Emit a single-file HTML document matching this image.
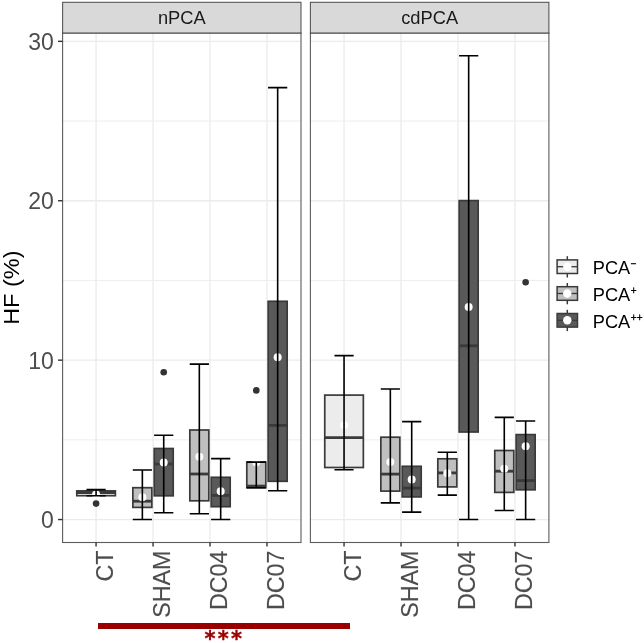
<!DOCTYPE html>
<html lang="en"><head><meta charset="utf-8"><title>HF (%) boxplot</title>
<style>html,body{margin:0;padding:0;background:#fff}body{width:644px;height:643px;overflow:hidden}</style>
</head><body>
<svg width="644" height="643" viewBox="0 0 644 643" style="display:block" font-family="Liberation Sans, sans-serif">
<rect width="644" height="643" fill="#fff"/>
<g>
<line x1="62.6" x2="301.0" y1="439.85" y2="439.85" stroke="#ebebeb" stroke-width="0.9"/>
<line x1="62.6" x2="301.0" y1="280.45" y2="280.45" stroke="#ebebeb" stroke-width="0.9"/>
<line x1="62.6" x2="301.0" y1="121.05" y2="121.05" stroke="#ebebeb" stroke-width="0.9"/>
<line x1="62.6" x2="301.0" y1="519.55" y2="519.55" stroke="#ebebeb" stroke-width="1.3"/>
<line x1="62.6" x2="301.0" y1="360.15" y2="360.15" stroke="#ebebeb" stroke-width="1.3"/>
<line x1="62.6" x2="301.0" y1="200.75" y2="200.75" stroke="#ebebeb" stroke-width="1.3"/>
<line x1="62.6" x2="301.0" y1="41.35" y2="41.35" stroke="#ebebeb" stroke-width="1.3"/>
<line x1="96.07" x2="96.07" y1="33.0" y2="542.5" stroke="#ebebeb" stroke-width="1.3"/>
<line x1="153.04" x2="153.04" y1="33.0" y2="542.5" stroke="#ebebeb" stroke-width="1.3"/>
<line x1="210.01" x2="210.01" y1="33.0" y2="542.5" stroke="#ebebeb" stroke-width="1.3"/>
<line x1="266.98" x2="266.98" y1="33.0" y2="542.5" stroke="#ebebeb" stroke-width="1.3"/>
</g>
<g>
<line x1="310.4" x2="548.9" y1="439.85" y2="439.85" stroke="#ebebeb" stroke-width="0.9"/>
<line x1="310.4" x2="548.9" y1="280.45" y2="280.45" stroke="#ebebeb" stroke-width="0.9"/>
<line x1="310.4" x2="548.9" y1="121.05" y2="121.05" stroke="#ebebeb" stroke-width="0.9"/>
<line x1="310.4" x2="548.9" y1="519.55" y2="519.55" stroke="#ebebeb" stroke-width="1.3"/>
<line x1="310.4" x2="548.9" y1="360.15" y2="360.15" stroke="#ebebeb" stroke-width="1.3"/>
<line x1="310.4" x2="548.9" y1="200.75" y2="200.75" stroke="#ebebeb" stroke-width="1.3"/>
<line x1="310.4" x2="548.9" y1="41.35" y2="41.35" stroke="#ebebeb" stroke-width="1.3"/>
<line x1="344.05" x2="344.05" y1="33.0" y2="542.5" stroke="#ebebeb" stroke-width="1.3"/>
<line x1="401.02" x2="401.02" y1="33.0" y2="542.5" stroke="#ebebeb" stroke-width="1.3"/>
<line x1="457.99" x2="457.99" y1="33.0" y2="542.5" stroke="#ebebeb" stroke-width="1.3"/>
<line x1="514.96" x2="514.96" y1="33.0" y2="542.5" stroke="#ebebeb" stroke-width="1.3"/>
</g>
<g>
<circle cx="96.07" cy="503.6" r="3.3" fill="#333"/>
<rect x="76.77" y="490.9" width="38.60" height="4.80" fill="#ececec" stroke="#3a3a3a" stroke-width="1.7"/>
<line x1="76.77" x2="115.37" y1="492.5" y2="492.5" stroke="#3a3a3a" stroke-width="2.8"/>
<circle cx="96.07" cy="494.6" r="4" fill="#fff"/>
<path d="M86.47 489.6H105.67M96.07 489.6V495.7M86.47 495.7H105.67" stroke="#000" stroke-width="1.6" fill="none"/>
</g>
<g>
<rect x="132.86" y="487.7" width="19.00" height="19.70" fill="#bfbfbf" stroke="#3a3a3a" stroke-width="1.7"/>
<line x1="132.86" x2="151.86" y1="501.2" y2="501.2" stroke="#3a3a3a" stroke-width="2.8"/>
<circle cx="142.36" cy="497.2" r="4" fill="#fff"/>
<path d="M132.76 470.0H151.96M142.36 470.0V519.55M132.76 519.55H151.96" stroke="#000" stroke-width="1.6" fill="none"/>
</g>
<g>
<circle cx="163.72" cy="372.2" r="3.3" fill="#333"/>
<rect x="154.22" y="448.5" width="19.00" height="47.30" fill="#595959" stroke="#3a3a3a" stroke-width="1.7"/>
<line x1="154.22" x2="173.22" y1="464.0" y2="464.0" stroke="#3a3a3a" stroke-width="2.8"/>
<circle cx="163.72" cy="462.4" r="4" fill="#fff"/>
<path d="M154.12 435.2H173.32M163.72 435.2V512.8M154.12 512.8H173.32" stroke="#000" stroke-width="1.6" fill="none"/>
</g>
<g>
<rect x="189.83" y="430.0" width="19.00" height="70.80" fill="#bfbfbf" stroke="#3a3a3a" stroke-width="1.7"/>
<line x1="189.83" x2="208.83" y1="474.0" y2="474.0" stroke="#3a3a3a" stroke-width="2.8"/>
<circle cx="199.33" cy="456.7" r="4" fill="#fff"/>
<path d="M189.73 364.1H208.93M199.33 364.1V513.8M189.73 513.8H208.93" stroke="#000" stroke-width="1.6" fill="none"/>
</g>
<g>
<rect x="211.19" y="477.3" width="19.00" height="29.40" fill="#595959" stroke="#3a3a3a" stroke-width="1.7"/>
<line x1="211.19" x2="230.19" y1="495.4" y2="495.4" stroke="#3a3a3a" stroke-width="2.8"/>
<circle cx="220.69" cy="491.2" r="4" fill="#fff"/>
<path d="M211.09 458.6H230.29M220.69 458.6V519.55M211.09 519.55H230.29" stroke="#000" stroke-width="1.6" fill="none"/>
</g>
<g>
<circle cx="256.30" cy="390.4" r="3.3" fill="#333"/>
<rect x="246.80" y="462.1" width="19.00" height="25.60" fill="#bfbfbf" stroke="#3a3a3a" stroke-width="1.7"/>
<line x1="246.80" x2="265.80" y1="486.1" y2="486.1" stroke="#3a3a3a" stroke-width="2.8"/>
<circle cx="256.30" cy="462.3" r="4" fill="#fff"/>
<path d="M246.70 462.1H265.90M256.30 462.1V487.7M246.70 487.7H265.90" stroke="#000" stroke-width="1.6" fill="none"/>
</g>
<g>
<rect x="268.16" y="301.3" width="19.00" height="180.00" fill="#595959" stroke="#3a3a3a" stroke-width="1.7"/>
<line x1="268.16" x2="287.16" y1="425.4" y2="425.4" stroke="#3a3a3a" stroke-width="2.8"/>
<circle cx="277.66" cy="357.3" r="4" fill="#fff"/>
<path d="M268.06 87.6H287.26M277.66 87.6V490.8M268.06 490.8H287.26" stroke="#000" stroke-width="1.6" fill="none"/>
</g>
<g>
<rect x="324.75" y="395.1" width="38.60" height="72.40" fill="#ececec" stroke="#3a3a3a" stroke-width="1.7"/>
<line x1="324.75" x2="363.35" y1="437.6" y2="437.6" stroke="#3a3a3a" stroke-width="2.8"/>
<circle cx="344.05" cy="425.3" r="4" fill="#fff"/>
<path d="M334.45 355.6H353.65M344.05 355.6V469.8M334.45 469.8H353.65" stroke="#000" stroke-width="1.6" fill="none"/>
</g>
<g>
<rect x="380.84" y="437.2" width="19.00" height="53.90" fill="#bfbfbf" stroke="#3a3a3a" stroke-width="1.7"/>
<line x1="380.84" x2="399.84" y1="474.1" y2="474.1" stroke="#3a3a3a" stroke-width="2.8"/>
<circle cx="390.34" cy="462.0" r="4" fill="#fff"/>
<path d="M380.74 389.0H399.94M390.34 389.0V502.9M380.74 502.9H399.94" stroke="#000" stroke-width="1.6" fill="none"/>
</g>
<g>
<rect x="402.20" y="466.3" width="19.00" height="30.60" fill="#595959" stroke="#3a3a3a" stroke-width="1.7"/>
<line x1="402.20" x2="421.20" y1="488.1" y2="488.1" stroke="#3a3a3a" stroke-width="2.8"/>
<circle cx="411.70" cy="479.6" r="4" fill="#fff"/>
<path d="M402.10 421.6H421.30M411.70 421.6V512.1M402.10 512.1H421.30" stroke="#000" stroke-width="1.6" fill="none"/>
</g>
<g>
<rect x="437.81" y="458.8" width="19.00" height="28.10" fill="#bfbfbf" stroke="#3a3a3a" stroke-width="1.7"/>
<line x1="437.81" x2="456.81" y1="472.9" y2="472.9" stroke="#3a3a3a" stroke-width="2.8"/>
<circle cx="447.31" cy="473.2" r="4" fill="#fff"/>
<path d="M437.71 452.3H456.91M447.31 452.3V495.1M437.71 495.1H456.91" stroke="#000" stroke-width="1.6" fill="none"/>
</g>
<g>
<rect x="459.17" y="200.6" width="19.00" height="231.40" fill="#595959" stroke="#3a3a3a" stroke-width="1.7"/>
<line x1="459.17" x2="478.17" y1="345.8" y2="345.8" stroke="#3a3a3a" stroke-width="2.8"/>
<circle cx="468.67" cy="307.1" r="4" fill="#fff"/>
<path d="M459.07 55.7H478.27M468.67 55.7V519.55M459.07 519.55H478.27" stroke="#000" stroke-width="1.6" fill="none"/>
</g>
<g>
<rect x="494.78" y="450.5" width="19.00" height="41.90" fill="#bfbfbf" stroke="#3a3a3a" stroke-width="1.7"/>
<line x1="494.78" x2="513.78" y1="471.2" y2="471.2" stroke="#3a3a3a" stroke-width="2.8"/>
<circle cx="504.28" cy="468.7" r="4" fill="#fff"/>
<path d="M494.68 417.4H513.88M504.28 417.4V510.5M494.68 510.5H513.88" stroke="#000" stroke-width="1.6" fill="none"/>
</g>
<g>
<circle cx="525.64" cy="282.2" r="3.3" fill="#333"/>
<rect x="516.14" y="434.6" width="19.00" height="55.20" fill="#595959" stroke="#3a3a3a" stroke-width="1.7"/>
<line x1="516.14" x2="535.14" y1="480.6" y2="480.6" stroke="#3a3a3a" stroke-width="2.8"/>
<circle cx="525.64" cy="446.2" r="4" fill="#fff"/>
<path d="M516.04 421.0H535.24M525.64 421.0V519.55M516.04 519.55H535.24" stroke="#000" stroke-width="1.6" fill="none"/>
</g>
<rect x="62.6" y="33.0" width="238.40" height="509.50" fill="none" stroke="#333" stroke-opacity=".8" stroke-width="1.1"/>
<rect x="62.6" y="2.3" width="238.40" height="30.70" fill="#d9d9d9" stroke="#333" stroke-opacity=".8" stroke-width="1.1"/>
<text x="181.80" y="24.1" font-size="18.3" text-anchor="middle" fill="#1a1a1a">nPCA</text>
<line x1="96.07" x2="96.07" y1="542.5" y2="546.5" stroke="#333" stroke-width="1.4"/>
<text transform="translate(112.87 550.5) rotate(-90) scale(1 1.02)" font-size="23.3" stroke="#4d4d4d" stroke-width=".15" text-anchor="end" fill="#4d4d4d">CT</text>
<line x1="153.04" x2="153.04" y1="542.5" y2="546.5" stroke="#333" stroke-width="1.4"/>
<text transform="translate(169.84 550.5) rotate(-90) scale(1 1.02)" font-size="23.3" stroke="#4d4d4d" stroke-width=".15" text-anchor="end" fill="#4d4d4d">SHAM</text>
<line x1="210.01" x2="210.01" y1="542.5" y2="546.5" stroke="#333" stroke-width="1.4"/>
<text transform="translate(226.81 550.5) rotate(-90) scale(1 1.02)" font-size="23.3" stroke="#4d4d4d" stroke-width=".15" text-anchor="end" fill="#4d4d4d">DC04</text>
<line x1="266.98" x2="266.98" y1="542.5" y2="546.5" stroke="#333" stroke-width="1.4"/>
<text transform="translate(283.78 550.5) rotate(-90) scale(1 1.02)" font-size="23.3" stroke="#4d4d4d" stroke-width=".15" text-anchor="end" fill="#4d4d4d">DC07</text>
<rect x="310.4" y="33.0" width="238.50" height="509.50" fill="none" stroke="#333" stroke-opacity=".8" stroke-width="1.1"/>
<rect x="310.4" y="2.3" width="238.50" height="30.70" fill="#d9d9d9" stroke="#333" stroke-opacity=".8" stroke-width="1.1"/>
<text x="429.65" y="24.1" font-size="18.3" text-anchor="middle" fill="#1a1a1a">cdPCA</text>
<line x1="344.05" x2="344.05" y1="542.5" y2="546.5" stroke="#333" stroke-width="1.4"/>
<text transform="translate(360.85 550.5) rotate(-90) scale(1 1.02)" font-size="23.3" stroke="#4d4d4d" stroke-width=".15" text-anchor="end" fill="#4d4d4d">CT</text>
<line x1="401.02" x2="401.02" y1="542.5" y2="546.5" stroke="#333" stroke-width="1.4"/>
<text transform="translate(417.82 550.5) rotate(-90) scale(1 1.02)" font-size="23.3" stroke="#4d4d4d" stroke-width=".15" text-anchor="end" fill="#4d4d4d">SHAM</text>
<line x1="457.99" x2="457.99" y1="542.5" y2="546.5" stroke="#333" stroke-width="1.4"/>
<text transform="translate(474.79 550.5) rotate(-90) scale(1 1.02)" font-size="23.3" stroke="#4d4d4d" stroke-width=".15" text-anchor="end" fill="#4d4d4d">DC04</text>
<line x1="514.96" x2="514.96" y1="542.5" y2="546.5" stroke="#333" stroke-width="1.4"/>
<text transform="translate(531.76 550.5) rotate(-90) scale(1 1.02)" font-size="23.3" stroke="#4d4d4d" stroke-width=".15" text-anchor="end" fill="#4d4d4d">DC07</text>
<line x1="58.0" x2="62.6" y1="519.55" y2="519.55" stroke="#333" stroke-width="1.4"/>
<text x="53.8" y="527.90" font-size="23" text-anchor="end" fill="#4d4d4d">0</text>
<line x1="58.0" x2="62.6" y1="360.15" y2="360.15" stroke="#333" stroke-width="1.4"/>
<text x="53.8" y="368.50" font-size="23" text-anchor="end" fill="#4d4d4d">10</text>
<line x1="58.0" x2="62.6" y1="200.75" y2="200.75" stroke="#333" stroke-width="1.4"/>
<text x="53.8" y="209.10" font-size="23" text-anchor="end" fill="#4d4d4d">20</text>
<line x1="58.0" x2="62.6" y1="41.35" y2="41.35" stroke="#333" stroke-width="1.4"/>
<text x="53.8" y="49.70" font-size="23" text-anchor="end" fill="#4d4d4d">30</text>
<text transform="translate(19 287.7) rotate(-90) scale(1 .975)" font-size="23.5" text-anchor="middle" fill="#000">HF (%)</text>
<g>
<path d="M567.3 256.2V277.5" stroke="#3a3a3a" stroke-width="1.5"/>
<rect x="557.0999999999999" y="259.90" width="20.4" height="13.6" fill="#ececec" stroke="#3a3a3a" stroke-width="1.5"/>
<line x1="557.0999999999999" x2="577.5" y1="266.7" y2="266.7" stroke="#3a3a3a" stroke-width="1.3"/>
<circle cx="567.3" cy="266.7" r="4.2" fill="#fff"/>
<text x="592.8" y="273.90" font-size="18.2" fill="#000">PCA<tspan font-size="10" dy="-6.8" dx="0.6" stroke="#000" stroke-width=".3">−</tspan></text>
</g>
<g>
<path d="M567.3 283.0V304.3" stroke="#3a3a3a" stroke-width="1.5"/>
<rect x="557.0999999999999" y="286.70" width="20.4" height="13.6" fill="#bfbfbf" stroke="#3a3a3a" stroke-width="1.5"/>
<line x1="557.0999999999999" x2="577.5" y1="293.5" y2="293.5" stroke="#3a3a3a" stroke-width="1.3"/>
<circle cx="567.3" cy="293.5" r="4.2" fill="#fff"/>
<text x="592.8" y="300.70" font-size="18.2" fill="#000">PCA<tspan font-size="10" dy="-6.8" dx="0.6" stroke="#000" stroke-width=".3">+</tspan></text>
</g>
<g>
<path d="M567.3 309.8V331.1" stroke="#3a3a3a" stroke-width="1.5"/>
<rect x="557.0999999999999" y="313.50" width="20.4" height="13.6" fill="#595959" stroke="#3a3a3a" stroke-width="1.5"/>
<line x1="557.0999999999999" x2="577.5" y1="320.3" y2="320.3" stroke="#3a3a3a" stroke-width="1.3"/>
<circle cx="567.3" cy="320.3" r="4.2" fill="#fff"/>
<text x="592.8" y="327.50" font-size="18.2" fill="#000">PCA<tspan font-size="10" dy="-6.8" dx="0.6" stroke="#000" stroke-width=".3">++</tspan></text>
</g>
<rect x="98" y="623" width="252" height="6" fill="#990000"/>
<text x="204.45 217.85 231.05" y="646.2" font-size="21" stroke="#990000" stroke-width=".4" font-weight="bold" font-family="DejaVu Sans, Liberation Sans, sans-serif" fill="#990000">***</text>
</svg>
</body></html>
